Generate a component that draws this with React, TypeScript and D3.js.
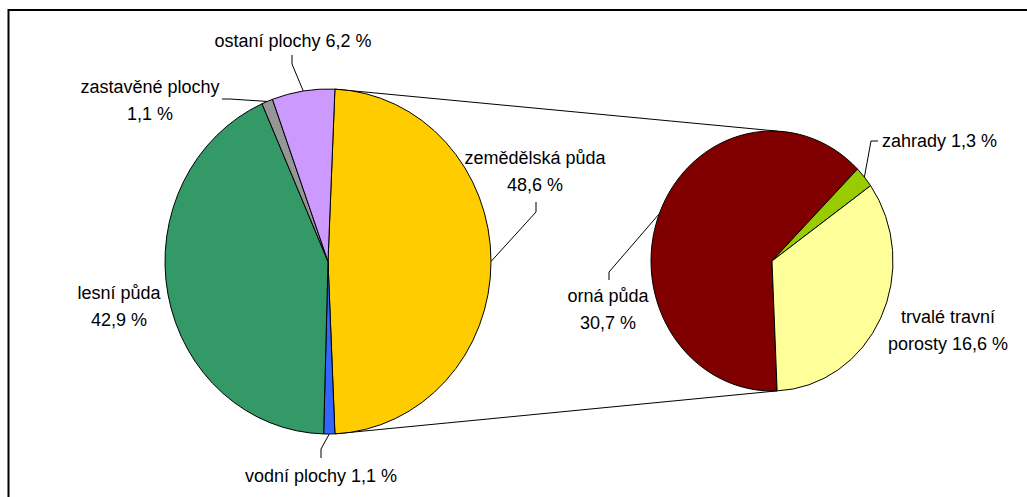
import React from 'react';
import * as d3 from 'd3';

// land use shares (%)
const mainNames = ['zemědělská půda', 'vodní plochy', 'lesní půda', 'zastavěné plochy', 'ostaní plochy'];
const mainValues = [48.6, 1.1, 42.9, 1.1, 6.2];
const mainColors = ['#FFCC00', '#3366FF', '#339966', '#969696', '#CC99FF'];

// breakdown of zemědělská půda
const subNames = ['orná půda', 'zahrady', 'trvalé travní porosty'];
const subValues = [30.7, 1.3, 16.6];
const subColors = ['#800000', '#99CC00', '#FFFF99'];

const W = 1027;
const H = 497;
const LINE = 27;

const mainGeo = { cx: 328, cy: 261.5, rx: 163, ry: 172.5 };
const subGeo = { cx: 772, cy: 261, rx: 121, ry: 130 };

// label placement: x, baseline y, words before the line break, leader anchor points
const mainLabelPos = [
  { x: 535, y: 164, brk: 2, leader: [[536, 202], [536, 212]] },
  { x: 321, y: 482, brk: 0, leader: [[321, 458], [321, 449]] },
  { x: 119, y: 299, brk: 2, leader: null },
  { x: 150, y: 93, brk: 2, leader: [[222, 99], [230, 99]] },
  { x: 293, y: 47, brk: 0, leader: [[292, 55], [292, 64]] },
];
const subLabelPos = [
  { x: 608, y: 302, brk: 2, leader: [[609, 280], [609, 272]] },
  { x: 939.5, y: 147, brk: 0, leader: [[878, 141], [871, 141]] },
  { x: 948, y: 323, brk: 2, leader: null },
];

const fmt = (v: number) => v.toFixed(1).replace('.', ',') + ' %';

const pt = (g: typeof mainGeo, a: number) => [g.cx + g.rx * Math.sin(a), g.cy - g.ry * Math.cos(a)];

function splitLines(name: string, v: number, brk: number) {
  const words = (name + ' ' + fmt(v)).split(' ');
  if (!brk) return [words.join(' ')];
  return [words.slice(0, brk).join(' '), words.slice(brk).join(' ')];
}

export default function App() {
  const mainSum = d3.sum(mainValues);
  const splitSpan = (mainValues[0] / mainSum) * 2 * Math.PI;
  const mainStart = Math.PI / 2 - splitSpan / 2;
  const subStart = mainStart + splitSpan;

  const mainArcs = d3.pie<number>().sort(null)
    .startAngle(mainStart).endAngle(mainStart + 2 * Math.PI)(mainValues);
  const subArcs = d3.pie<number>().sort(null)
    .startAngle(subStart).endAngle(subStart + 2 * Math.PI)(subValues);

  const arcMain = d3.arc<d3.PieArcDatum<number>>().innerRadius(0).outerRadius(mainGeo.rx);
  const arcSub = d3.arc<d3.PieArcDatum<number>>().innerRadius(0).outerRadius(subGeo.rx);

  const line = d3.line();

  const topA = pt(mainGeo, mainStart);
  const botA = pt(mainGeo, subStart);
  const topB = pt(subGeo, mainStart);
  const botB = pt(subGeo, subStart);

  const renderLabels = (arcs, names, values, pos, geo) =>
    arcs.map((a, i) => {
      const p = pos[i];
      const mid = (a.startAngle + a.endAngle) / 2;
      const lines = splitLines(names[i], values[i], p.brk);
      return (
        <g key={names[i]}>
          {p.leader && (
            <path d={line([...p.leader, pt(geo, mid)] as [number, number][]) || ''}
              fill="none" stroke="#000" strokeWidth={1} />
          )}
          <text x={p.x} y={p.y} textAnchor="middle" fontSize={18}
            fontFamily="'Liberation Sans', Arial, sans-serif" fill="#000">
            {lines.map((l, j) => (
              <tspan key={j} x={p.x} dy={j === 0 ? 0 : LINE}>{l}</tspan>
            ))}
          </text>
        </g>
      );
    });

  return (
    <svg width={W} height={H} style={{ position: 'absolute', left: 0, top: 0, background: '#fff' }}>
      <rect width={W} height={H} fill="#fff" />
      <path d={`M8.5,${H} V10 H${W}`} fill="none" stroke="#000" strokeWidth={2} />

      <line x1={topA[0]} y1={topA[1]} x2={topB[0]} y2={topB[1]} stroke="#000" strokeWidth={1} />
      <line x1={botA[0]} y1={botA[1]} x2={botB[0]} y2={botB[1]} stroke="#000" strokeWidth={1} />

      <g transform={`translate(${mainGeo.cx},${mainGeo.cy}) scale(1,${mainGeo.ry / mainGeo.rx})`}>
        {mainArcs.map((a, i) => (
          <path key={i} d={arcMain(a) || ''} fill={mainColors[i]} stroke="#000"
            strokeWidth={1} vectorEffect="non-scaling-stroke" />
        ))}
      </g>
      <g transform={`translate(${subGeo.cx},${subGeo.cy}) scale(1,${subGeo.ry / subGeo.rx})`}>
        {subArcs.map((a, i) => (
          <path key={i} d={arcSub(a) || ''} fill={subColors[i]} stroke="#000"
            strokeWidth={1} vectorEffect="non-scaling-stroke" />
        ))}
      </g>

      {renderLabels(mainArcs, mainNames, mainValues, mainLabelPos, mainGeo)}
      {renderLabels(subArcs, subNames, subValues, subLabelPos, subGeo)}
    </svg>
  );
}
